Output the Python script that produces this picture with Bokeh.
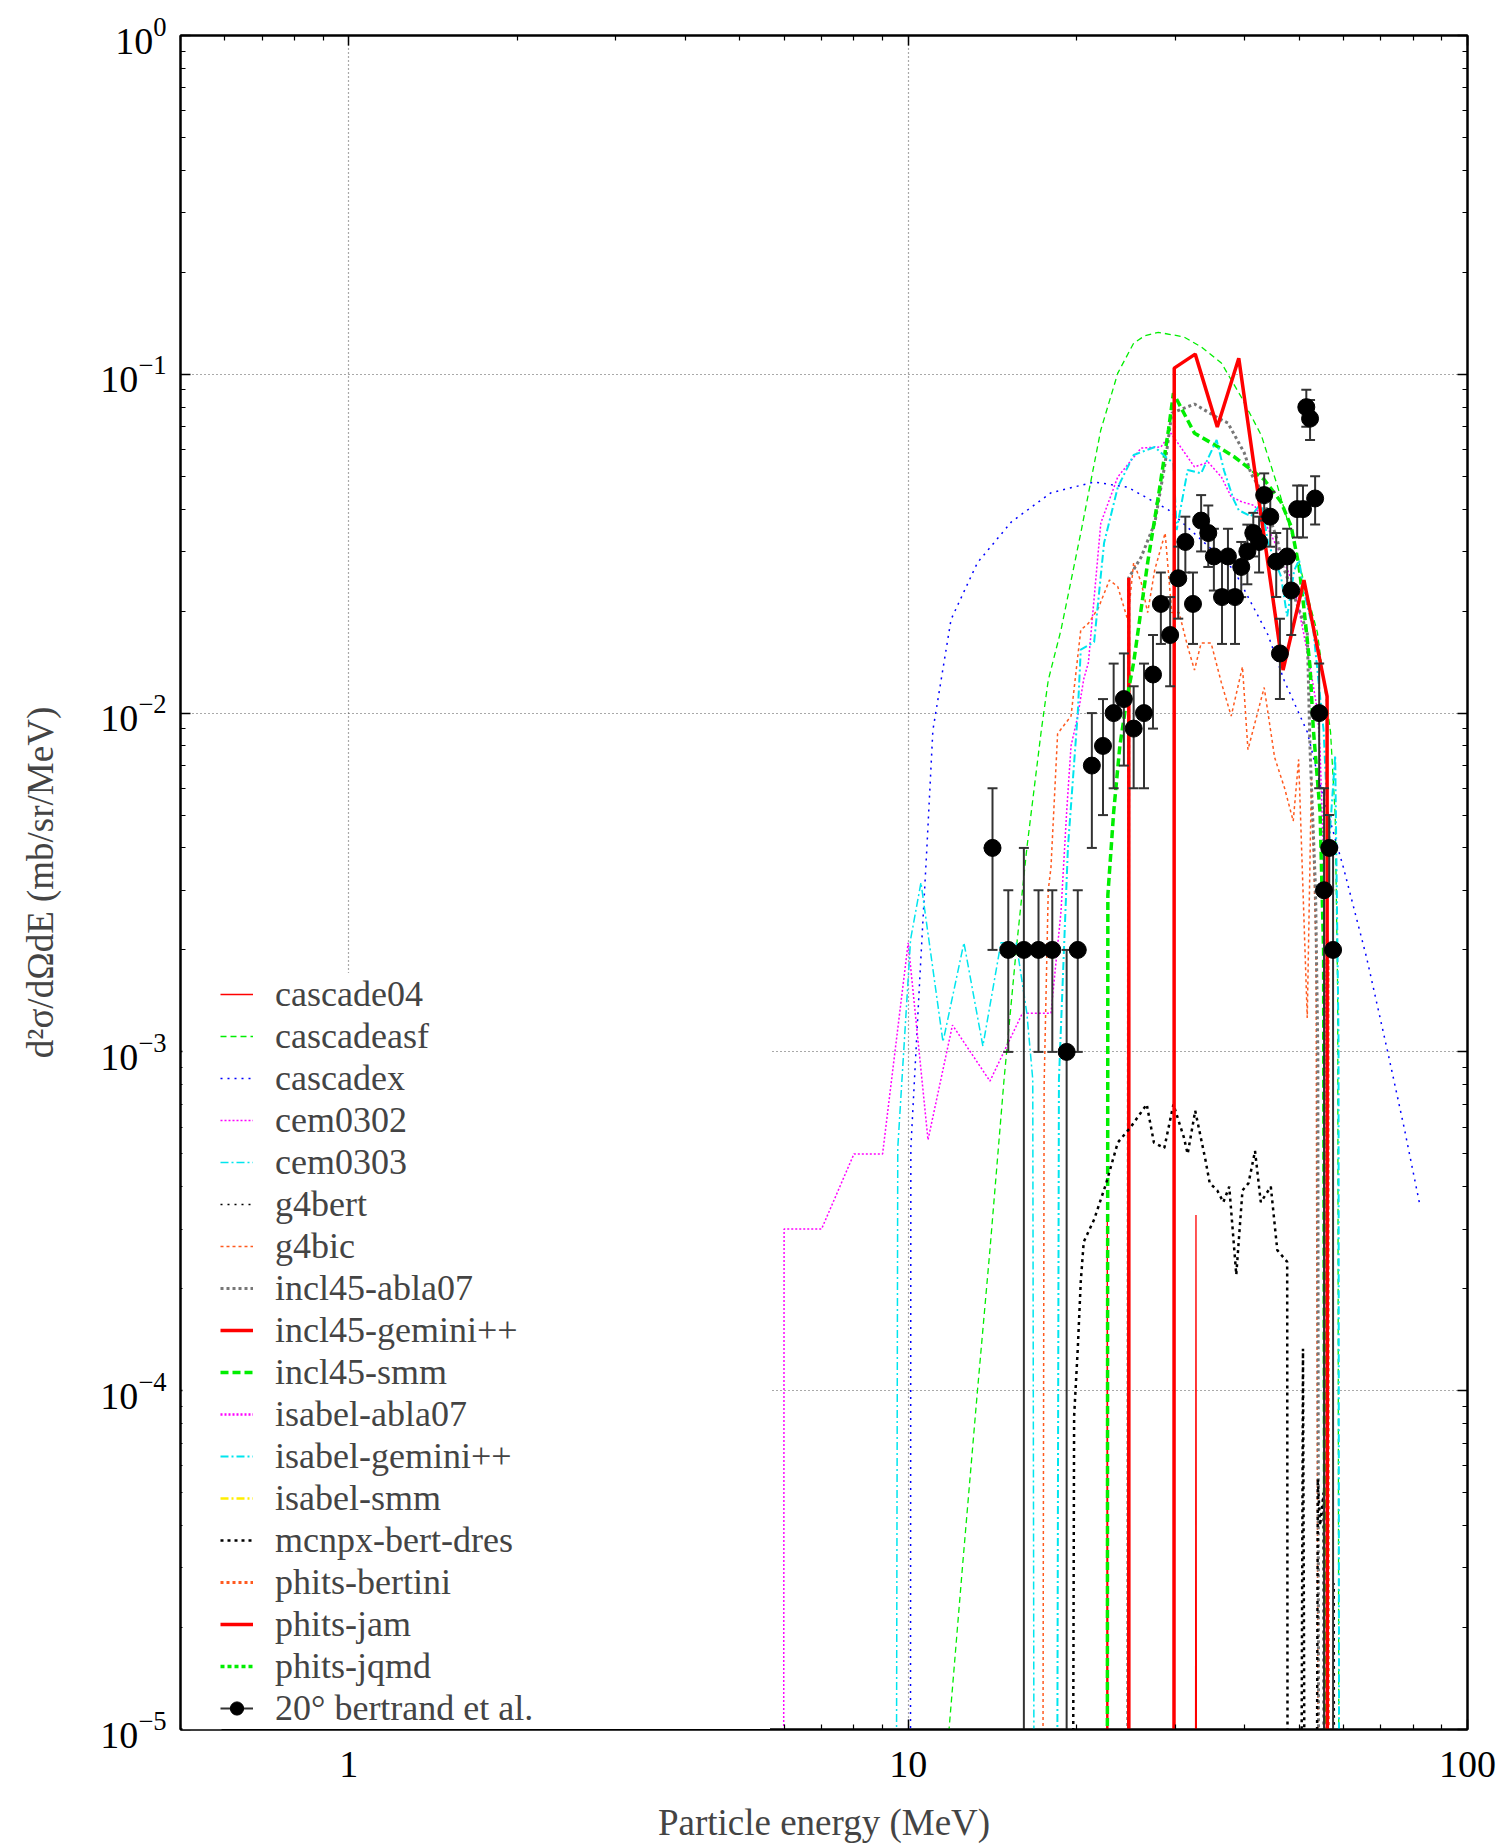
from bokeh.plotting import figure
from bokeh.models import (LogAxis, FixedTicker, LogTickFormatter, BasicTickFormatter,
                          Legend, LegendItem, ColumnDataSource, BoxAnnotation, Range1d)
from bokeh.embed import file_html
from bokeh.resources import INLINE

FONT = "Liberation Serif"
NAN = float("nan")

# ---------------- data ----------------
cascade04_E = [22.5, 22.7, 22.9, 32.5, 32.7, 32.9]
cascade04_V = [1e-9, 3.3e-4, 1e-9, 1e-9, 3.3e-4, 1e-9]

cascadeasf_E = [11.7, 12.5, 13.3, 14.0, 14.84, 15.6, 16.3, 17.3, 17.8, 18.76, 20.4, 22.1, 23.7, 25.3,
                26.5, 28.0, 31.1, 33.4, 36.3, 39.4, 42.8, 45.7, 48.4, 50.9, 53.9, 56.9, 58.0, 58.6, 58.9]
cascadeasf_V = [8e-6, 3e-5, 1e-4, 2.6e-4, 8.3e-4, 2e-3, 4e-3, 8.9e-3, 0.0125, 0.0176, 0.0347, 0.0685,
                0.1008, 0.1236, 0.130, 0.133, 0.129, 0.1205, 0.108, 0.0857, 0.066, 0.047, 0.034, 0.0247,
                0.0173, 0.0088, 0.005, 0.0015, 5e-6]

cascadex_E = [10.08, 10.11, 10.5, 10.8, 11.07, 11.93, 13.3, 15.3, 18.0, 21.5, 24.7, 29.2, 33.4, 38.2,
              44.0, 47.0, 51.7, 55.0, 60.0, 66.0, 72.0, 77.0, 82.0]
cascadex_V = [1e-7, 5.2e-4, 1.7e-3, 4e-3, 8.9e-3, 0.0189, 0.0278, 0.0367, 0.0447, 0.0481, 0.0464, 0.0398,
              0.0325, 0.0265, 0.017, 0.0125, 0.0088, 0.0058, 0.0035, 0.0019, 1.0e-3, 6e-4, 3.6e-4]

cem0302_E = [5.97, 6.0, 7.0, 8.0, 9.0, 10.0, 10.85, 12.0, 14.0, 16.0, 18.0, 18.76, 19.2, 19.55, 20.1,
             20.6, 21.0, 22.1, 23.7, 26.1, 28.3, 29.5, 32.5, 34.4, 36.3, 37.8, 39.4, 41.6, 44.0, 47.0,
             49.0, 50.9, 52.3, 53.9, 54.5, 55.2, 55.8, 56.1]
cem0302_V = [1e-8, 3e-4, 3e-4, 5e-4, 5e-4, 2.1e-3, 5.5e-4, 1.2e-3, 8.2e-4, 1.3e-3, 1.3e-3, 2.6e-3, 5.1e-3,
             8e-3, 9.8e-3, 0.0126, 0.0141, 0.0364, 0.0498, 0.0606, 0.061, 0.067, 0.0533, 0.055, 0.0498,
             0.0435, 0.0421, 0.041, 0.035, 0.028, 0.0236, 0.0173, 0.0137, 0.0102, 0.0078, 0.004, 0.0012, 1e-8]

cem0303_E = [9.45, 9.58, 10.1, 10.54, 11.54, 12.58, 13.6, 14.65, 15.6, 16.3, 16.7, 16.9]
cem0303_V = [1e-8, 5.2e-4, 2.15e-3, 3.16e-3, 1.07e-3, 2.1e-3, 1.04e-3, 2.1e-3, 2.1e-3, 1.3e-3, 8.3e-4, 1e-8]

g4bert_E = [57.6, 57.8, 58.0]
g4bert_V = [1e-8, 2.7e-5, 1e-8]

g4bic_E = [17.3, 17.5, 17.8, 18.0, 18.5, 19.55, 20.35, 21.0, 21.9, 22.9, 23.7, 24.7, 25.3, 26.1, 26.8,
           27.6, 28.8, 29.6, 30.5, 31.6, 32.5, 33.4, 34.8, 36.3, 37.8, 39.6, 40.5, 43.3, 45.2, 47.1,
           48.8, 49.9, 51.7, 52.6, 53.6, 54.6]
g4bic_V = [1e-8, 8e-4, 3e-3, 3.5e-3, 8.7e-3, 9.8e-3, 0.0176, 0.0184, 0.0205, 0.0247, 0.0236, 0.0188,
           0.0278, 0.0243, 0.0198, 0.0265, 0.034, 0.0198, 0.0198, 0.0157, 0.0134, 0.0161, 0.0161,
           0.0123, 0.0098, 0.0137, 0.0078, 0.0119, 0.0074, 0.006, 0.0048, 0.0073, 0.00126, 0.0064,
           0.002, 1e-8]

incl45_abla07_E = [24.6, 24.8, 26.1, 27.6, 28.8, 29.6, 32.5, 35.8, 37.3, 39.9, 41.0, 42.4, 45.7, 46.8,
                   48.3, 51.7, 52.3, 53.5, 54.0, 54.4]
incl45_abla07_V = [1e-8, 0.0251, 0.0289, 0.0364, 0.0547, 0.0768, 0.0817, 0.0743, 0.0718, 0.0586, 0.051,
                   0.0465, 0.0325, 0.0271, 0.0236, 0.0173, 0.0078, 0.003, 1e-3, 1e-8]

incl45_gemini_E = [24.79, 24.8, 24.81]
incl45_gemini_V = [1e-8, 0.0251, 1e-8]

incl45_smm_E = [22.65, 22.75, 23.3, 23.9, 24.6, 25.3, 26.8, 28.0, 29.2, 29.8, 32.5, 35.8, 38.2, 41.0,
                43.3, 46.4, 48.4, 50.0, 50.9, 52.3, 53.0, 54.5, 55.3, 56.0]
incl45_smm_V = [1e-8, 2.9e-3, 5.1e-3, 8e-3, 0.011, 0.0141, 0.0278, 0.0435, 0.0685, 0.088, 0.067, 0.0611,
                0.0572, 0.0523, 0.0489, 0.042, 0.0355, 0.027, 0.021, 0.0137, 0.009, 5.1e-3, 2e-3, 1e-8]

# not visible anywhere in the plot (no drawable values)
isabel_abla07_E = [NAN]
isabel_abla07_V = [NAN]

isabel_gemini_E = [18.3, 18.6, 19.3, 20.1, 20.35, 21.5, 22.4, 23.7, 25.3, 27.6, 28.8, 29.8, 30.2, 31.6,
                   33.4, 35.6, 36.7, 38.2, 39.0, 41.0, 42.8, 44.0, 46.4, 47.6, 49.0, 50.0, 50.9, 53.0,
                   54.5, 55.3, 56.5, 58.0, 58.8, 59.1]
isabel_gemini_V = [1e-8, 8.3e-4, 4.0e-3, 0.01, 0.0154, 0.0162, 0.0318, 0.0464, 0.0578, 0.061, 0.0572,
                   0.0547, 0.0347, 0.0522, 0.051, 0.064, 0.052, 0.0426, 0.0397, 0.0381, 0.0417, 0.0318,
                   0.0253, 0.0193, 0.0264, 0.0283, 0.0231, 0.0176, 0.0112, 0.0089, 0.004, 0.0075,
                   0.0011, 1e-8]

isabel_smm_E = [NAN]
isabel_smm_V = [NAN]

mcnpx_E = [19.5, 19.8, 20.1, 20.35, 20.6, 21.5, 22.6, 23.7, 25.0, 26.7, 27.5, 28.7, 29.8, 31.1, 31.6,
           32.6, 34.0, 34.6, 35.7, 36.6, 37.5, 38.6, 39.6, 40.6, 41.7, 42.7, 44.5, 45.7, 47.6, 47.8,
           49.8, 50.8, 51.8, 53.2, 54.0, 54.5, 55.3, 55.6]
mcnpx_V = [1e-8, 8.4e-5, 1.33e-4, 2.1e-4, 2.75e-4, 3.2e-4, 4.1e-4, 5.4e-4, 6.0e-4, 7.0e-4, 5.4e-4,
           5.2e-4, 7.0e-4, 5.6e-4, 5.0e-4, 6.7e-4, 4.8e-4, 4.1e-4, 3.9e-4, 3.6e-4, 4.0e-4, 2.2e-4,
           3.9e-4, 4.1e-4, 5.1e-4, 3.6e-4, 4.0e-4, 2.6e-4, 2.4e-4, 1e-8, 1e-8, 1.33e-4, 1e-8, 1e-8,
           5.5e-5, 4e-5, 5e-5, 1e-8]

phits_bertini_E = [56.1, 56.3, 56.5]
phits_bertini_V = [1e-8, 2e-3, 1e-8]

phits_jam_E = [29.85, 29.9, 32.6, 35.7, 39.0, 46.8, 51.0, 56.1, 56.2]
phits_jam_V = [1e-8, 0.1043, 0.1147, 0.0699, 0.1116, 0.0134, 0.0247, 0.0112, 1e-8]

phits_jqmd_E = [NAN]
phits_jqmd_V = [NAN]

exp_E = [14.15, 15.1, 16.1, 17.1, 18.1, 19.2, 20.1, 21.3, 22.3, 23.3, 24.3, 25.3, 26.4, 27.4, 28.3,
         29.4, 30.4, 31.3, 32.3, 33.4, 34.4, 35.2, 36.4, 37.3, 38.4, 39.4, 40.4, 41.4, 42.4, 43.3,
         44.4, 45.5, 46.2, 47.6, 48.4, 49.6, 50.8, 51.5, 52.3, 53.4, 54.3, 55.4, 56.6, 57.5]
exp_V = [0.004, 0.002, 0.002, 0.002, 0.002, 0.001, 0.002, 0.007, 0.008, 0.010, 0.011, 0.009, 0.010,
         0.013, 0.021, 0.017, 0.025, 0.032, 0.021, 0.037, 0.034, 0.029, 0.022, 0.029, 0.022, 0.027,
         0.030, 0.034, 0.032, 0.044, 0.038, 0.028, 0.015, 0.029, 0.023, 0.040, 0.040, 0.080, 0.074,
         0.043, 0.010, 0.003, 0.004, 0.002]
exp_dV = [0.002, 0.001, 0.002, 0.001, 0.001, 0.001, 0.001, 0.003, 0.003, 0.004, 0.004, 0.003, 0.004,
          0.004, 0.005, 0.005, 0.006, 0.006, 0.005, 0.007, 0.007, 0.006, 0.006, 0.006, 0.006, 0.005,
          0.006, 0.005, 0.006, 0.007, 0.007, 0.006, 0.004, 0.006, 0.006, 0.007, 0.007, 0.010, 0.010,
          0.007, 0.004, 0.003, 0.001, 0.002]
exp_dE = [0.5] * len(exp_E)
exp_label = "20° bertrand et al."

x_major = [1, 10, 100]
y_major = [1e-5, 1e-4, 1e-3, 1e-2, 1e-1, 1]

# ---------------- figure ----------------
p = figure(width=1497, height=1845, x_axis_type="log", y_axis_type="log",
           x_range=Range1d(0.5, 100), y_range=Range1d(1e-5, 1),
           output_backend="svg", toolbar_location=None,
           min_border_left=180, min_border_right=30, min_border_top=35, min_border_bottom=115)
p.background_fill_color = "white"
p.border_fill_color = "white"
p.outline_line_color = "black"
p.outline_line_width = 2

x_minor = [m * 10.0 ** k for k in (-1, 0, 1) for m in range(2, 10)]
y_minor = [m * 10.0 ** k for k in range(-5, 0) for m in range(2, 10)]
xt = FixedTicker(ticks=x_major, minor_ticks=x_minor)
yt = FixedTicker(ticks=y_major, minor_ticks=y_minor)

xa = p.xaxis[0]
ya = p.yaxis[0]
xa.ticker = xt
ya.ticker = yt
xa.formatter = BasicTickFormatter()
ya.formatter = LogTickFormatter()

top_ax = LogAxis(ticker=xt)
right_ax = LogAxis(ticker=yt)
p.add_layout(top_ax, "above")
p.add_layout(right_ax, "right")

for ax in (xa, ya, top_ax, right_ax):
    ax.major_tick_in = 10
    ax.major_tick_out = 0
    ax.minor_tick_in = 5
    ax.minor_tick_out = 0
    ax.major_tick_line_width = 1.5
    ax.minor_tick_line_width = 1.2
    ax.axis_line_width = 2
    ax.major_label_text_font = FONT
    ax.major_label_text_font_size = "38px"
    ax.major_label_text_color = "black"
    ax.axis_label_text_font = FONT
    ax.axis_label_text_font_size = "37px"
    ax.axis_label_text_font_style = "normal"
for ax in (top_ax, right_ax):
    ax.major_label_text_font_size = "2px"
    ax.major_label_text_alpha = 0.0
    ax.major_label_standoff = 0

xa.major_label_standoff = 22
ya.major_label_standoff = 14
xa.axis_label = "Particle energy (MeV)"
ya.axis_label = "d²σ/dΩdE (mb/sr/MeV)"
xa.axis_label_standoff = 22
ya.axis_label_standoff = 36

p.xgrid.ticker = xt
p.ygrid.ticker = yt
for g in (p.xgrid, p.ygrid):
    g.grid_line_color = "#555555"
    g.grid_line_dash = "1 3"
    g.grid_line_width = 1.2

# ---------------- model curves ----------------
series = [
    ("cascade04", cascade04_E, cascade04_V, "#ff0000", 1.3, "solid"),
    ("cascadeasf", cascadeasf_E, cascadeasf_V, "#00ee00", 1.3, "6 4"),
    ("cascadex", cascadex_E, cascadex_V, "#0000ff", 1.5, "2 5"),
    ("cem0302", cem0302_E, cem0302_V, "#ff00ff", 1.5, "2 2"),
    ("cem0303", cem0303_E, cem0303_V, "#00e5ee", 1.5, "8 3 2 3"),
    ("g4bert", g4bert_E, g4bert_V, "#000000", 1.3, "2 5"),
    ("g4bic", g4bic_E, g4bic_V, "#ff5a1f", 1.5, "3 3"),
    ("incl45-abla07", incl45_abla07_E, incl45_abla07_V, "#777777", 3.0, "3 3"),
    ("incl45-gemini++", incl45_gemini_E, incl45_gemini_V, "#ff0000", 3.5, "solid"),
    ("incl45-smm", incl45_smm_E, incl45_smm_V, "#00ee00", 3.5, "8 4"),
    ("isabel-abla07", isabel_abla07_E, isabel_abla07_V, "#ff00ff", 2.5, "2 2"),
    ("isabel-gemini++", isabel_gemini_E, isabel_gemini_V, "#00e5ee", 2.0, "8 3 2 3"),
    ("isabel-smm", isabel_smm_E, isabel_smm_V, "#ffee00", 2.5, "8 3 2 3"),
    ("mcnpx-bert-dres", mcnpx_E, mcnpx_V, "#000000", 2.5, "3 4"),
    ("phits-bertini", phits_bertini_E, phits_bertini_V, "#ff5a1f", 3.0, "3 3"),
    ("phits-jam", phits_jam_E, phits_jam_V, "#ff0000", 3.5, "solid"),
    ("phits-jqmd", phits_jqmd_E, phits_jqmd_V, "#00ee00", 3.5, "4 3"),
]

items = []
for name, E, V, color, lw, dash in series:
    src = ColumnDataSource(dict(x=list(E), y=list(V)))
    r = p.line("x", "y", source=src, line_color=color, line_width=lw, line_dash=dash)
    items.append(LegendItem(label=name, renderers=[r]))

# ---------------- experimental points ----------------
exp_lo = [v - d if v - d > 1e-12 else 1e-9 for v, d in zip(exp_V, exp_dV)]
exp_hi = [v + d for v, d in zip(exp_V, exp_dV)]
cap_lo_E = [e for e, v, d in zip(exp_E, exp_V, exp_dV) if v - d > 1e-12]
cap_lo_V = [v - d for v, d in zip(exp_V, exp_dV) if v - d > 1e-12]

ERR = "#333333"
p.segment(x0=exp_E, y0=exp_lo, x1=exp_E, y1=exp_hi, line_color=ERR, line_width=2)
p.scatter(x=exp_E, y=exp_hi, marker="dash", size=10, line_color=ERR, line_width=2)
p.scatter(x=cap_lo_E, y=cap_lo_V, marker="dash", size=10, line_color=ERR, line_width=2)
hseg = p.segment(x0=[e - d for e, d in zip(exp_E, exp_dE)], y0=exp_V,
                 x1=[e + d for e, d in zip(exp_E, exp_dE)], y1=exp_V,
                 line_color=ERR, line_width=2)
dots = p.scatter(x=exp_E, y=exp_V, marker="circle", size=17, fill_color="black", line_color="black")
items.append(LegendItem(label=exp_label, renderers=[hseg, dots]))

# white strip left of the key box (key is opaque in the original)
p.add_layout(BoxAnnotation(left=2, right=41, bottom=0, top=755,
                           left_units="screen", right_units="screen",
                           bottom_units="screen", top_units="screen",
                           fill_color="white", fill_alpha=1.0, line_color=None))

legend = Legend(items=items, location=(40, 0), margin=0, padding=6, spacing=0,
                glyph_width=33, glyph_height=40, label_height=40, label_width=495,
                label_standoff=22, label_text_font=FONT, label_text_font_size="36px",
                background_fill_color="white", background_fill_alpha=1.0,
                border_line_color=None)
p.add_layout(legend, "center")

open("out.html", "w").write(file_html(p, INLINE))
